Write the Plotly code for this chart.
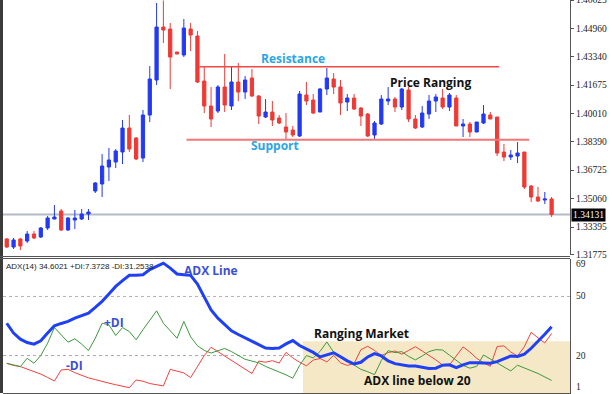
import plotly.graph_objects as go

# ---------------- data ----------------
bar_index = list(range(81))

open_ = [1.32706, 1.32240, 1.32706, 1.32589, 1.32997, 1.32822, 1.33347, 1.33871, 1.34336, 1.33230,
         1.33812, 1.33871, 1.34162, 1.35501, 1.35909, 1.36899, 1.37190, 1.37772, 1.39170, 1.38588,
         1.37423, 1.39927, 1.41966, 1.45052, 1.44936, 1.43597, 1.43422, 1.44936, 1.44528, 1.41908,
         1.40452, 1.40160, 1.41558, 1.40452, 1.41849, 1.41267, 1.42082, 1.41034, 1.39811, 1.40102,
         1.39753, 1.39229, 1.39054, 1.38704, 1.41092, 1.40801, 1.40102, 1.41442, 1.42024, 1.41558,
         1.40685, 1.40917, 1.40335, 1.39986, 1.38763, 1.39403, 1.40743, 1.40859, 1.40393, 1.41383,
         1.39694, 1.39229, 1.39986, 1.40743, 1.40917, 1.40393, 1.40917, 1.39287, 1.39403, 1.38937,
         1.39462, 1.39927, 1.39811, 1.37772, 1.37481, 1.37539, 1.37772, 1.35792, 1.35152, 1.34977,
         1.35035]
high = [1.32764, 1.32764, 1.32764, 1.33172, 1.33172, 1.33405, 1.34045, 1.34686, 1.34453, 1.33987,
        1.34395, 1.34453, 1.34453, 1.36025, 1.37656, 1.38005, 1.37947, 1.39637, 1.39927, 1.38646,
        1.40219, 1.42781, 1.46450, 1.46600, 1.45285, 1.43597, 1.45518, 1.45285, 1.44820, 1.42723,
        1.41558, 1.41675, 1.43480, 1.42723, 1.42956, 1.42199, 1.42606, 1.41092, 1.40859, 1.40743,
        1.39927, 1.40044, 1.39287, 1.41325, 1.41849, 1.41150, 1.41500, 1.42665, 1.42374, 1.41966,
        1.41150, 1.41150, 1.40393, 1.40044, 1.39578, 1.41092, 1.41558, 1.40976, 1.41500, 1.41558,
        1.39927, 1.40452, 1.41092, 1.41150, 1.41442, 1.41209, 1.41092, 1.39694, 1.39520, 1.39520,
        1.40510, 1.40102, 1.39811, 1.38238, 1.37889, 1.38355, 1.37772, 1.35851, 1.35734, 1.35443,
        1.35152]
low = [1.32182, 1.32124, 1.32066, 1.32473, 1.32706, 1.32764, 1.33230, 1.33850, 1.33172, 1.33172,
       1.33289, 1.33812, 1.33812, 1.35385, 1.35152, 1.36084, 1.36841, 1.37074, 1.37772, 1.37307,
       1.37190, 1.39520, 1.41675, 1.44121, 1.41442, 1.43480, 1.43305, 1.43655, 1.41791, 1.40044,
       1.39229, 1.40044, 1.40102, 1.40219, 1.40743, 1.40859, 1.40976, 1.39403, 1.39753, 1.39287,
       1.39403, 1.38471, 1.38646, 1.38646, 1.40510, 1.39986, 1.40102, 1.41092, 1.41150, 1.39927,
       1.40160, 1.40219, 1.39287, 1.38646, 1.38530, 1.39345, 1.40510, 1.40102, 1.40219, 1.39520,
       1.39112, 1.39170, 1.39694, 1.40102, 1.40277, 1.40160, 1.39287, 1.38646, 1.38646, 1.38937,
       1.39403, 1.39694, 1.37539, 1.37248, 1.37307, 1.37132, 1.35618, 1.34861, 1.34861, 1.34744,
       1.33987]
close = [1.32240, 1.32647, 1.32298, 1.32997, 1.32764, 1.33347, 1.33929, 1.33987, 1.33230, 1.33929,
         1.33929, 1.34162, 1.34278, 1.35967, 1.36957, 1.37307, 1.37831, 1.39170, 1.37947, 1.37365,
         1.39927, 1.42024, 1.45052, 1.44878, 1.43305, 1.43480, 1.44994, 1.44587, 1.41849, 1.40452,
         1.39694, 1.41558, 1.40510, 1.41849, 1.41267, 1.41966, 1.41034, 1.39869, 1.40102, 1.39637,
         1.39462, 1.38937, 1.38763, 1.41150, 1.40743, 1.40044, 1.41442, 1.42082, 1.41558, 1.40626,
         1.40917, 1.40277, 1.39869, 1.38704, 1.39462, 1.40859, 1.40859, 1.40393, 1.41442, 1.39694,
         1.39170, 1.40044, 1.40743, 1.40976, 1.40393, 1.41092, 1.39287, 1.39403, 1.38937, 1.39520,
         1.39986, 1.39694, 1.37714, 1.37481, 1.37598, 1.37714, 1.35734, 1.35152, 1.34919, 1.35035,
         1.34131]

adx = [36.4, 31.4, 28.3, 26.6, 25.8, 27.5, 31.4, 35.1, 36.3, 37.3,
       39.0, 40.3, 41.5, 44.4, 47.5, 51.2, 55.1, 58.0, 60.7, 60.7,
       61.0, 63.6, 65.3, 66.9, 64.4, 61.4, 61.0, 60.7, 56.3, 49.5,
       43.2, 39.0, 35.9, 32.6, 30.7, 29.0, 27.3, 25.5, 23.8, 23.6,
       23.8, 25.9, 27.6, 25.1, 23.5, 21.6, 19.3, 20.4, 21.4, 19.4,
       17.3, 15.7, 16.6, 19.3, 21.0, 19.8, 17.3, 15.9, 15.3, 14.7,
       14.7, 13.9, 13.4, 13.6, 15.1, 15.3, 13.9, 15.3, 16.4, 16.4,
       16.3, 16.1, 16.9, 18.3, 19.8, 19.5, 20.7, 23.7, 27.1, 30.8,
       34.6021]
plus_di = [16.1, 15.3, 14.4, 18.6, 16.1, 20.0, 26.3, 34.2, 30.5, 26.8,
           28.5, 25.8, 22.5, 28.8, 36.4, 35.6, 30.2, 34.2, 32.2, 28.0,
           33.1, 38.1, 42.7, 36.4, 32.5, 28.8, 37.3, 29.5, 25.0, 22.6,
           21.3, 22.3, 23.6, 22.0, 20.0, 18.1, 17.2, 16.3, 14.5, 13.1,
           11.8, 10.2, 8.5, 15.0, 20.0, 18.8, 22.1, 26.9, 21.7, 19.6,
           17.4, 15.0, 13.0, 11.8, 10.3, 17.5, 22.5, 21.5, 22.0, 19.6,
           17.8, 19.8, 22.0, 23.0, 22.8, 20.2, 17.8, 15.0, 13.6, 14.5,
           20.3, 18.3, 16.3, 14.6, 12.2, 15.1, 13.9, 12.3, 10.9, 9.0,
           7.3728]
minus_di = [16.0, 15.0, 14.4, 13.2, 11.8, 10.6, 8.9, 7.1, 12.7, 13.0,
            11.3, 9.8, 8.7, 7.8, 6.8, 6.0, 5.2, 4.5, 3.7, 7.6,
            7.0, 5.8, 5.2, 4.6, 13.0, 12.2, 11.2, 8.8, 14.6, 20.0,
            24.2, 22.0, 19.5, 17.2, 15.0, 12.9, 10.9, 17.2, 16.6, 17.4,
            16.2, 21.6, 18.8, 16.6, 14.8, 17.7, 18.5, 16.8, 20.1, 16.3,
            15.0, 16.0, 23.0, 24.7, 22.6, 20.0, 21.5, 22.3, 20.7, 22.6,
            24.5, 22.3, 20.1, 17.8, 15.2, 15.2, 19.8, 24.4, 21.8, 18.6,
            16.3, 14.6, 24.6, 24.9, 21.8, 19.8, 24.5, 31.8, 29.0, 26.4,
            31.2538]

price_ticks = [1.46625, 1.44960, 1.43340, 1.41675, 1.40010, 1.38390, 1.36725, 1.35060, 1.33395, 1.31775]
price_tick_text = ["1.46625", "1.44960", "1.43340", "1.41675", "1.40010", "1.38390", "1.36725",
                   "1.35060", "1.33395", "1.31775"]
current_price = 1.34131
resistance_level = 1.4274
support_level = 1.3849
adx_ticks = [69, 50, 20, 1]

# ---------------- styling ----------------
BLUE = "#2339f2"
RED = "#ef3934"
LABEL_FONT = "Liberation Serif"
TXT_FONT = "Open Sans"

fig = go.Figure()

fig.add_trace(go.Candlestick(
    x=bar_index, open=open_, high=high, low=low, close=close,
    xaxis="x", yaxis="y",
    increasing=dict(line=dict(color=BLUE, width=1), fillcolor=BLUE),
    decreasing=dict(line=dict(color=RED, width=1), fillcolor=RED),
    whiskerwidth=0, hoverinfo="skip", showlegend=False))

fig.add_trace(go.Scatter(x=bar_index, y=minus_di, xaxis="x", yaxis="y2", mode="lines",
                         line=dict(color="#f2413c", width=1), hoverinfo="skip", showlegend=False))
fig.add_trace(go.Scatter(x=bar_index, y=plus_di, xaxis="x", yaxis="y2", mode="lines",
                         line=dict(color="#3c9a3c", width=1), hoverinfo="skip", showlegend=False))
fig.add_trace(go.Scatter(x=bar_index, y=adx, xaxis="x", yaxis="y2", mode="lines",
                         line=dict(color="#2040f6", width=3), hoverinfo="skip", showlegend=False))

PLOT_W = 567
PLOT_H = 393
shapes = [
    dict(type="line", xref="x domain", x0=0, x1=1, yref="y", y0=current_price, y1=current_price,
         line=dict(color="#b3bbc5", width=2), layer="below"),
    dict(type="line", xref="x", x0=28.3, x1=72.3, yref="y", y0=resistance_level, y1=resistance_level,
         line=dict(color="#f04848", width=1.5)),
    dict(type="line", xref="x", x0=26.4, x1=76.7, yref="y", y0=support_level, y1=support_level,
         line=dict(color="#f27676", width=2)),
    dict(type="rect", xref="x", x0=43.5, x1=82.7, yref="y2", y0=1, y1=27.3,
         fillcolor="#f4e8c6", line=dict(width=0), layer="below"),
    dict(type="line", xref="x domain", x0=0, x1=1, yref="y2", y0=50, y1=50,
         line=dict(color="#b0b0b0", width=1, dash="3px,3px"), layer="below"),
    dict(type="line", xref="x domain", x0=0, x1=1, yref="y2", y0=20, y1=20,
         line=dict(color="#a8a8a8", width=1, dash="3px,3px"), layer="below"),
    dict(type="rect", xref="paper", x0=-3.0 / PLOT_W, x1=0, yref="paper", y0=0, y1=1,
         fillcolor="#3b3b3b", line=dict(width=0)),
    dict(type="line", xref="paper", x0=-3.0 / PLOT_W, x1=1, yref="paper",
         y0=(PLOT_H - 256.5) / PLOT_H, y1=(PLOT_H - 256.5) / PLOT_H,
         line=dict(color="#555555", width=1)),
    dict(type="line", xref="paper", x0=-3.0 / PLOT_W, x1=1, yref="paper",
         y0=(PLOT_H - 258.5) / PLOT_H, y1=(PLOT_H - 258.5) / PLOT_H,
         line=dict(color="#555555", width=1)),
]

def txt(text, x, y, yref, color, size=12, font=TXT_FONT, **kw):
    d = dict(text=text, x=x, y=y, xref=kw.pop("xref", "x"), yref=yref, showarrow=False,
             font=dict(family=font, size=size, color=color))
    d.update(kw)
    return d

annotations = [
    txt("<b>Resistance</b>", 42.0, 1.43247, "y", "#2ba6e4"),
    txt("<b>Support</b>", 39.4, 1.3818, "y", "#2ba6e4"),
    txt("<b>Price Ranging</b>", 62.2, 1.41849, "y", "#111111"),
    txt("<b>ADX Line</b>", 30.0, 63.4, "y2", "#3a4fd8"),
    txt("<b>+DI</b>", 15.8, 36.9, "y2", "#3a4fd8"),
    txt("<b>-DI</b>", 9.96, 15.1, "y2", "#3a4fd8"),
    txt("<b>Ranging Market</b>", 52.1, 31.3, "y2", "#111111"),
    txt("<b>ADX line below 20</b>", 60.3, 7.4, "y2", "#111111"),
    txt("ADX(14) 34.6021 +DI:7.3728 -DI:31.2538", 0, 65.3, "y2", "#222222", size=8,
        font="Liberation Sans", xref="paper", xanchor="left", xshift=1),
    dict(text="1.34131", x=1, xref="paper", xanchor="left", xshift=1, y=current_price, yref="y",
         showarrow=False, bgcolor="#000000", borderpad=1,
         font=dict(family=LABEL_FONT, size=9.5, color="#ffffff")),
    txt(str(adx_ticks[0]), 1, 66.4, "y2", "#222222", size=9.5, font=LABEL_FONT,
        xref="paper", xanchor="left", xshift=4),
    txt(str(adx_ticks[1]), 1, 50, "y2", "#222222", size=9.5, font=LABEL_FONT,
        xref="paper", xanchor="left", xshift=4),
    txt(str(adx_ticks[2]), 1, 20, "y2", "#222222", size=9.5, font=LABEL_FONT,
        xref="paper", xanchor="left", xshift=4),
    txt(str(adx_ticks[3]), 1, 3.9, "y2", "#222222", size=9.5, font=LABEL_FONT,
        xref="paper", xanchor="left", xshift=4),
]

fig.update_layout(
    width=612, height=394,
    margin=dict(l=3, r=42, t=0, b=1, autoexpand=False),
    paper_bgcolor="#ffffff", plot_bgcolor="#ffffff",
    showlegend=False,
    boxgap=0.32,
    xaxis=dict(range=[-0.55, 82.7], anchor="y2", showgrid=False, zeroline=False,
               showline=True, linecolor="#555555", linewidth=1,
               ticks="outside", ticklen=3, tickcolor="#555555",
               tickvals=[7, 15, 23, 31, 39, 47, 55, 63, 71, 79], showticklabels=False,
               rangeslider=dict(visible=False), fixedrange=True, automargin=False),
    yaxis=dict(domain=[(PLOT_H - 255) / PLOT_H, 1], range=[1.31774, 1.46627], side="right",
               anchor="x", showgrid=False, zeroline=False, showline=True, automargin=False,
               linecolor="#555555", linewidth=1, ticks="outside", ticklen=3, tickcolor="#555555",
               tickvals=price_ticks, ticktext=price_tick_text, ticklabeloverflow="allow",
               tickfont=dict(family=LABEL_FONT, size=9.5, color="#222222")),
    yaxis2=dict(domain=[0, (PLOT_H - 259) / PLOT_H], range=[1, 69], side="right", anchor="x",
                showgrid=False, zeroline=False, showline=True, linecolor="#555555",
                linewidth=1, showticklabels=False, ticks="", automargin=False),
    shapes=shapes,
    annotations=annotations,
)

fig.write_html("out.html", config=dict(displayModeBar=False),
               post_script="document.body.style.margin='0';document.body.style.overflow='hidden';")
